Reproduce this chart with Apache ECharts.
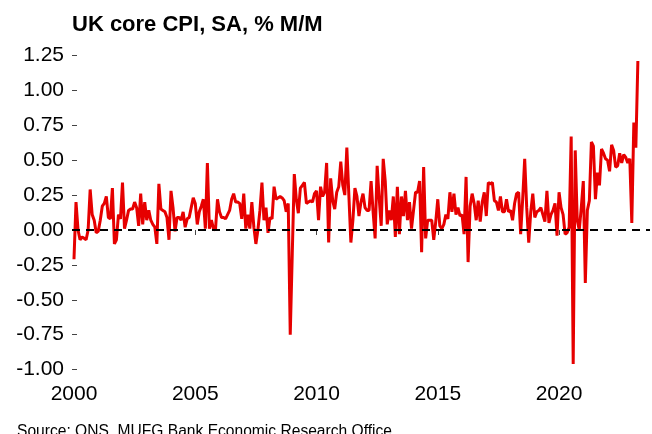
<!DOCTYPE html>
<html>
<head>
<meta charset="utf-8">
<script src="https://cdn.jsdelivr.net/npm/echarts@6/dist/echarts.min.js"></script>
<style>
html,body{margin:0;padding:0;background:#fff;}
#chart{width:652px;height:434px;}
</style>
</head>
<body>
<div id="chart"></div>
<script>
// Monthly UK core CPI, SA, % M/M — series starts January 2000
var startYear = 2000;
var values2000_2003 = [-0.21, 0.20, 0.00, -0.07, -0.05, -0.06, -0.07, 0.00, 0.29, 0.11, 0.07, -0.02,
  -0.01, 0.07, 0.17, 0.19, 0.24, 0.09, 0.08, 0.30, -0.10, -0.07, 0.11, 0.08,
  0.34, 0.01, 0.07, 0.14, 0.15, 0.15, 0.20, 0.16, 0.03, 0.26, 0.04, 0.20,
  0.07, 0.14, 0.07, 0.04, 0.02, -0.10, 0.33, 0.15, 0.14, 0.13, 0.09, -0.07];
var values2004_2007 = [0.28, 0.16, -0.01, 0.09, 0.09, 0.07, 0.13, 0.02, 0.08, 0.09, 0.16, 0.23,
  0.19, 0.04, 0.13, 0.17, 0.22, 0.01, 0.48, 0.01, 0.07, 0.01, 0.00, 0.22,
  0.13, 0.09, 0.09, 0.08, 0.11, 0.14, 0.22, 0.26, 0.20, 0.20, 0.19, 0.08,
  0.26, 0.01, 0.11, 0.01, 0.20, 0.02, -0.10, 0.00, 0.14, 0.34];
var values2007_2011 = [0.07, 0.16, -0.02, 0.09, 0.08, 0.31, 0.22, 0.23, 0.24, 0.23, 0.21, 0.13,
  0.19, -0.75, -0.17, 0.40, 0.22, 0.12, 0.30, 0.32, 0.34, 0.19, 0.20, 0.21,
  0.20, 0.26, 0.28, 0.07, 0.31, 0.24, 0.27, 0.48, -0.09, 0.37, 0.21, 0.15,
  0.27, 0.31, 0.49, 0.32, 0.25, 0.59, 0.25, -0.09, 0.07, 0.30, 0.24, 0.10];
var values2011_2015 = [0.20, 0.26, 0.16, 0.14, 0.14, 0.35, 0.13, -0.06, 0.46, 0.23, 0.03, 0.51,
  0.35, 0.04, 0.14, 0.07, 0.24, -0.05, 0.31, -0.03, 0.24, 0.10, 0.28, 0.07,
  0.20, 0.01, 0.14, 0.27, 0.27, 0.35, -0.16, 0.45, -0.06, 0.07, 0.07, 0.07,
  -0.07, 0.06, 0.22, 0.03, 0.01, 0.04, 0.11, 0.08, 0.27, 0.13];
var values2015_2019 = [0.26, 0.11, 0.16, 0.10, 0.11, -0.03, 0.38, -0.23, 0.17, 0.26, 0.19, 0.07,
  0.21, 0.06, 0.20, 0.27, 0.10, 0.34, 0.33, 0.34, 0.21, 0.20, 0.14, 0.24,
  0.13, 0.13, 0.22, 0.13, 0.14, 0.07, 0.19, 0.26, 0.27, -0.03, 0.22, 0.51,
  0.16, -0.09, 0.13, 0.26, 0.09, 0.13, 0.14, 0.16, 0.11, 0.06, 0.28];
var values2019_2023 = [0.05, 0.11, 0.14, 0.19, -0.04, 0.27, 0.16, 0.11, -0.03, -0.02, 0.02, 0.67,
  -0.96, 0.57, 0.07, 0.00, 0.16, 0.35, -0.38, 0.14, 0.21, 0.63, 0.60, 0.22,
  0.41, 0.32, 0.58, 0.55, 0.51, 0.50, 0.42, 0.61, 0.57, 0.45, 0.46, 0.55,
  0.48, 0.54, 0.52, 0.48, 0.51, 0.05, 0.77, 0.59, 1.21];

var yearTicks = [2000, 2005, 2010, 2015, 2020];
var yTicks = [-1.00, -0.75, -0.50, -0.25, 0.00, 0.25, 0.50, 0.75, 1.00, 1.25];
var titleText = 'UK core CPI, SA, % M/M';
var sourceText = 'Source: ONS, MUFG Bank Economic Research Office';

var allValues = [].concat(values2000_2003, values2004_2007, values2007_2011,
  values2011_2015, values2015_2019, values2019_2023);
var seriesData = allValues.map(function (v, i) { return [startYear + i / 12, v]; });

var chart = echarts.init(document.getElementById('chart'), null, {renderer: 'canvas'});
chart.setOption({
  backgroundColor: '#ffffff',
  animation: false,
  title: {
    text: titleText,
    left: 72, top: 14, padding: 0,
    textStyle: {fontFamily: 'Liberation Sans, Arial, sans-serif', fontSize: 22, fontWeight: 'bold', color: '#000'}
  },
  graphic: [{
    type: 'text', left: 17, top: 424,
    style: {text: sourceText, font: '15.6px "Liberation Sans", Arial, sans-serif', fill: '#000'}
  }],
  grid: {left: 72, right: 2, top: 50, bottom: 57, containLabel: false},
  xAxis: {
    type: 'value',
    min: 1999.918, max: 2023.75,
    splitLine: {show: false},
    axisLine: {show: false},
    axisTick: {show: true, length: 5, customValues: yearTicks, lineStyle: {color: '#444', width: 1}},
    axisLabel: {
      customValues: yearTicks, margin: 7,
      fontFamily: 'Liberation Sans, Arial, sans-serif', fontSize: 21, color: '#000',
      formatter: function (v) { return String(Math.round(v)); }
    }
  },
  yAxis: {
    type: 'value',
    min: -1.053, max: 1.289,
    splitLine: {show: false},
    axisLine: {show: false},
    axisTick: {show: true, inside: true, length: 5, customValues: yTicks, lineStyle: {color: '#444', width: 1}},
    axisLabel: {
      customValues: yTicks, margin: 8,
      fontFamily: 'Liberation Sans, Arial, sans-serif', fontSize: 21, color: '#000',
      formatter: function (v) { return v.toFixed(2); }
    }
  },
  series: [{
    type: 'line',
    data: seriesData,
    showSymbol: false,
    symbol: 'none',
    lineStyle: {color: '#e60000', width: 3},
    markLine: {
      silent: true,
      symbol: 'none',
      label: {show: false},
      lineStyle: {color: '#000', type: [8, 6], width: 2},
      data: [{yAxis: 0}]
    }
  }]
});
</script>
</body>
</html>
